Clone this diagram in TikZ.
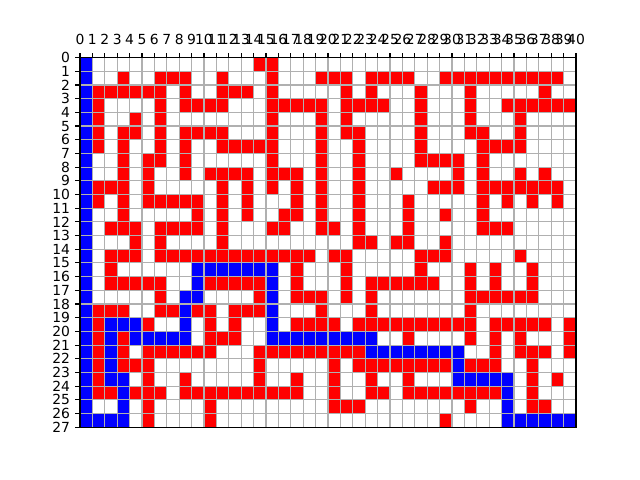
\documentclass[tikz,border=0pt]{standalone}
\usepackage{fontspec}
\setmainfont{DejaVu Sans}
\definecolor{cellred}{RGB}{255,0,0}
\definecolor{cellblue}{RGB}{0,0,255}
\definecolor{gridgray}{RGB}{176,176,176}
\begin{document}
\begin{tikzpicture}[x=0.72pt,y=-0.72pt,
  redcell/.style={fill=cellred},
  bluecell/.style={fill=cellblue},
  gridline/.style={draw=gridgray,line width=0.8pt},
  frame/.style={draw=black,line width=0.8pt},
  tickmark/.style={draw=black,line width=0.8pt},
  ticklabel/.style={inner sep=0pt,font=\fontsize{10}{12}\selectfont}]
\useasboundingbox (0,0) rectangle (640,480);
\fill[white] (0,0) rectangle (640,480);
\begin{scope}[shift={(80,57.6)},x={(8.928pt,0pt)},y={(0pt,-9.856pt)}]
% red cells
\foreach \r/\cl in {
 0/{14,15},
 1/{3,6,7,8,11,15,19,20,21,23,24,25,26,29,30,31,32,33,34,35,36,37,38},
 2/{1,2,3,4,5,6,8,11,12,13,15,21,23,27,31,37},
 3/{1,6,8,9,10,11,15,16,17,18,19,21,22,23,24,27,31,34,35,36,37,38,39},
 4/{1,4,6,15,19,21,27,31,35},
 5/{1,3,4,6,8,9,10,11,15,19,21,22,27,31,32,35},
 6/{1,3,6,8,11,12,13,14,15,19,22,27,32,33,34,35},
 7/{3,5,6,8,15,19,22,27,28,29,30,32},
 8/{3,5,8,10,11,12,13,15,16,17,19,22,25,30,32,35,37},
 9/{1,2,3,5,11,13,15,17,19,22,28,29,30,32,33,34,35,36,37,38},
 10/{1,3,5,6,7,8,9,11,13,17,19,22,26,32,34,36,38},
 11/{3,9,11,13,16,17,19,22,26,29,32},
 12/{2,3,4,6,7,8,9,11,15,16,19,20,22,26,32,33,34},
 13/{4,6,11,22,23,25,26,29},
 14/{2,3,4,6,7,8,9,10,11,12,13,14,15,16,17,18,20,21,27,28,29,35},
 15/{2,17,21,27,31,33,36},
 16/{2,3,4,5,6,10,11,12,13,14,17,21,23,24,25,26,27,28,31,33,36},
 17/{6,14,17,18,19,21,23,31,32,33,34,35,36},
 18/{1,2,3,6,7,9,10,12,13,14,19,23,31},
 19/{1,5,10,12,17,18,19,20,22,23,24,25,26,27,28,29,30,31,33,34,35,36,37,39},
 20/{1,3,10,11,12,26,31,33,35,39},
 21/{1,3,5,6,7,8,9,10,14,15,16,17,18,19,20,21,22,33,35,36,37,39},
 22/{1,3,4,5,14,20,22,23,24,25,26,27,28,29,31,32,33,36},
 23/{1,5,8,14,17,20,23,26,36,38},
 24/{1,2,4,5,6,8,9,10,11,12,13,14,15,16,17,20,23,24,26,27,28,29,30,31,32,33,36},
 25/{5,10,20,21,22,31,36,37},
 26/{5,10,29}}
 {\foreach \c in \cl {\fill[redcell] (\c,\r) rectangle ++(1,1);}}
% blue cells
\fill[bluecell] (0,0) rectangle (1,27);
\foreach \r/\cl in {
 15/{9,10,11,12,13,14,15},
 16/{9,15},
 17/{8,9,15},
 18/{8,15},
 19/{2,3,4,8,15},
 20/{2,4,5,6,7,8,15,16,17,18,19,20,21,22,23},
 21/{2,23,24,25,26,27,28,29,30},
 22/{2,30},
 23/{2,3,30,31,32,33,34},
 24/{3,34},
 25/{3,34},
 26/{1,2,3,34,35,36,37,38,39}}
 {\foreach \c in \cl {\fill[bluecell] (\c,\r) rectangle ++(1,1);}}
% grid
\foreach \i in {1,...,39} {\draw[gridline] (\i,0) -- (\i,27);}
\foreach \j in {1,...,26} {\draw[gridline] (0,\j) -- (40,\j);}
% frame
\draw[frame] (0,0) rectangle (40,27);
% ticks and labels
\foreach \i in {0,...,40} {
  \draw[tickmark] (\i,0) -- ++(0pt,3.5pt);
  \node[ticklabel,anchor=base] (xl\i) at ([yshift=9.36pt]\i,0) {\i};
}
\foreach \j in {0,...,27} {
  \draw[tickmark] (0,\j) -- ++(-3.5pt,0pt);
  \node[ticklabel,anchor=east] (yl\j) at ([xshift=-7pt]0,\j) {\j};
}
\end{scope}
\end{tikzpicture}
\end{document}
